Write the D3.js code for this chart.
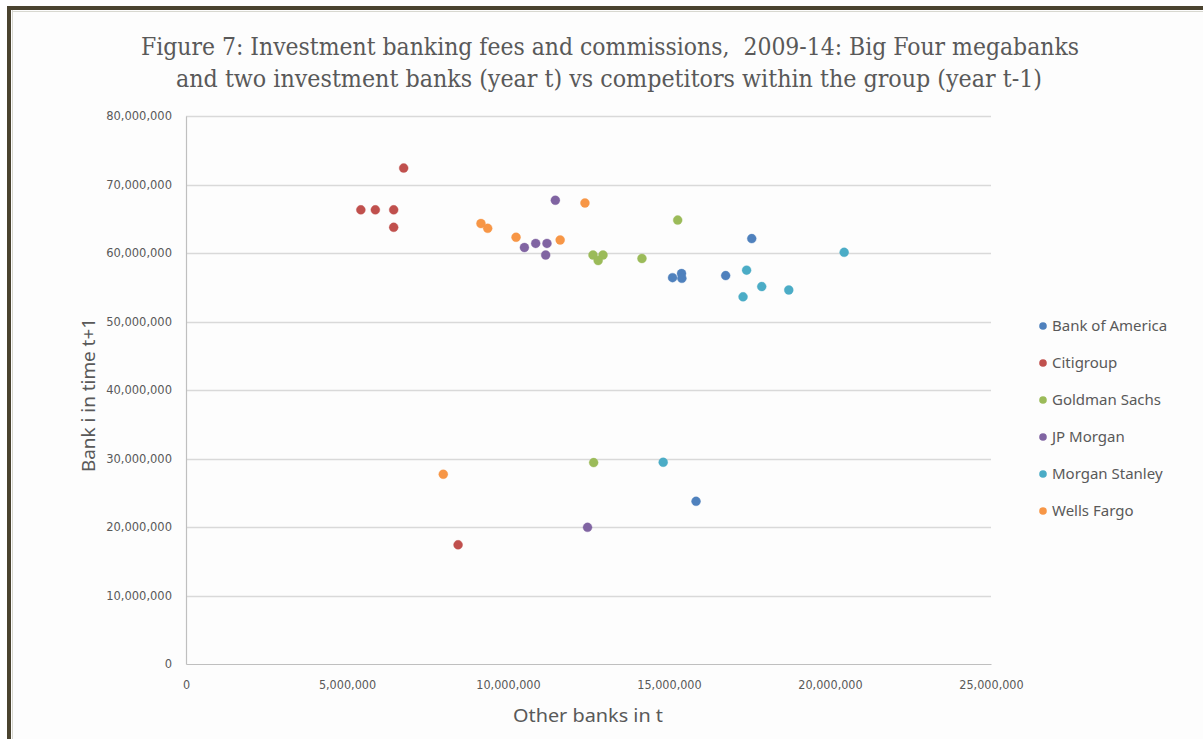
<!DOCTYPE html>
<html>
<head>
<meta charset="utf-8">
<script src="https://cdn.jsdelivr.net/npm/d3@7"></script>
<style>
  html, body { margin: 0; padding: 0; background: #ffffff; }
  svg { display: block; }
</style>
</head>
<body>
<svg id="chart" width="1203" height="739"></svg>
<script>
// ---- Data ----
const seriesNames = ["Bank of America", "Citigroup", "Goldman Sachs", "JP Morgan", "Morgan Stanley", "Wells Fargo"];
const seriesColors = ["#4F81BD", "#C0504D", "#9BBB59", "#8064A2", "#4BACC6", "#F79646"];

const bankOfAmericaX = [15110000, 15390000, 15400000, 16760000, 17570000, 15840000];
const bankOfAmericaY = [56400000, 57000000, 56300000, 56700000, 62100000, 23750000];

const citigroupX = [5430000, 5880000, 6450000, 6450000, 6760000, 8450000];
const citigroupY = [66300000, 66300000, 66300000, 63750000, 72400000, 17400000];

const goldmanSachsX = [12640000, 12950000, 12800000, 14160000, 15270000, 12660000];
const goldmanSachsY = [59700000, 59700000, 58900000, 59200000, 64800000, 29400000];

const jpMorganX = [10510000, 10860000, 11210000, 11170000, 11470000, 12470000];
const jpMorganY = [60800000, 61400000, 61400000, 59700000, 67700000, 19950000];

const morganStanleyX = [17410000, 17880000, 18720000, 17300000, 20440000, 14820000];
const morganStanleyY = [57500000, 55100000, 54600000, 53600000, 60100000, 29450000];

const wellsFargoX = [9160000, 9370000, 10250000, 11620000, 12390000, 7990000];
const wellsFargoY = [64300000, 63600000, 62300000, 61900000, 67300000, 27700000];

const xTicks = [0, 5000000, 10000000, 15000000, 20000000, 25000000];
const yTicks = [0, 10000000, 20000000, 30000000, 40000000, 50000000, 60000000, 70000000, 80000000];

const titleLines = [
  "Figure 7: Investment banking fees and commissions,  2009-14: Big Four megabanks",
  "and two investment banks (year t) vs competitors within the group (year t-1)"
];
const xTitle = "Other banks in t";
const yTitle = "Bank i in time t+1";

// ---- Build ----
const seriesX = [bankOfAmericaX, citigroupX, goldmanSachsX, jpMorganX, morganStanleyX, wellsFargoX];
const seriesY = [bankOfAmericaY, citigroupY, goldmanSachsY, jpMorganY, morganStanleyY, wellsFargoY];
const series = seriesNames.map((name, i) => ({
  name, color: seriesColors[i],
  points: seriesX[i].map((x, j) => ({ x, y: seriesY[i][j] }))
}));

const svg = d3.select("#chart");
const textColor = "#595959";

// Frame
svg.append("rect").attr("x", 0).attr("y", 0).attr("width", 1203).attr("height", 739).attr("fill", "#ffffff");
svg.append("rect").attr("x", 11).attr("y", 10).attr("width", 1192).attr("height", 729).attr("fill", "#fdfdfd");
svg.append("line").attr("x1", 9).attr("x2", 9).attr("y1", 6).attr("y2", 739)
  .attr("stroke", "#4a432f").attr("stroke-width", 4);
svg.append("line").attr("x1", 7).attr("x2", 1203).attr("y1", 8).attr("y2", 8)
  .attr("stroke", "#4a432f").attr("stroke-width", 4);
svg.append("line").attr("x1", 12.5).attr("x2", 12.5).attr("y1", 10).attr("y2", 739)
  .attr("stroke", "#d8d8d0").attr("stroke-width", 1);
svg.append("line").attr("x1", 12).attr("x2", 1203).attr("y1", 11.5).attr("y2", 11.5)
  .attr("stroke", "#d8d8d0").attr("stroke-width", 1);

// Scales
const x = d3.scaleLinear().domain([0, 25000000]).range([186, 991]);
const y = d3.scaleLinear().domain([0, 80000000]).range([664, 116]);
const fmt = d3.format(",");

// Gridlines
svg.append("g").selectAll("line").data(yTicks.filter(d => d > 0)).join("line")
  .attr("x1", x(0)).attr("x2", x(25000000))
  .attr("y1", d => Math.round(y(d)) + 0.5).attr("y2", d => Math.round(y(d)) + 0.5)
  .attr("stroke", "#d9d9d9").attr("stroke-width", 1.5);

// Axes
const yAxis = d3.axisLeft(y).tickValues(yTicks).tickFormat(fmt).tickSize(0).tickPadding(14);
const gy = svg.append("g").attr("transform", `translate(${x(0)},0)`).call(yAxis);
gy.select(".domain").attr("stroke", "#bfbfbf").attr("stroke-width", 1.2);
gy.selectAll("text").attr("fill", textColor).attr("font-family", "'DejaVu Sans', sans-serif")
  .attr("font-size", "11.5px");

const xAxis = d3.axisBottom(x).tickValues(xTicks).tickFormat(fmt).tickSize(0).tickPadding(16);
const gx = svg.append("g").attr("transform", `translate(0,${y(0)})`).call(xAxis);
gx.select(".domain").attr("stroke", "#bfbfbf").attr("stroke-width", 1.2);
gx.selectAll("text").attr("fill", textColor).attr("font-family", "'DejaVu Sans Condensed', 'Liberation Sans Narrow', sans-serif")
  .attr("font-size", "12.5px");

// Title
svg.append("g").selectAll("text").data(titleLines).join("text")
  .attr("x", (d, i) => i === 0 ? 141 : 176)
  .attr("y", (d, i) => i === 0 ? 55 : 87)
  .attr("textLength", (d, i) => i === 0 ? 938 : 866)
  .attr("lengthAdjust", "spacingAndGlyphs")
  .attr("fill", textColor)
  .attr("font-family", "'DejaVu Serif Condensed', 'DejaVu Serif', serif")
  .attr("font-size", "24px")
  .style("white-space", "pre")
  .attr("xml:space", "preserve")
  .text(d => d);

// Axis titles
svg.append("text").attr("x", 588).attr("y", 722).attr("text-anchor", "middle")
  .attr("fill", textColor).attr("font-family", "'Noto Sans', sans-serif").attr("font-size", "18px")
  .attr("textLength", 150).attr("lengthAdjust", "spacingAndGlyphs").text(xTitle);
svg.append("text").attr("transform", "translate(95,395) rotate(-90)").attr("text-anchor", "middle")
  .attr("fill", textColor).attr("font-family", "'Noto Sans', sans-serif").attr("font-size", "18px")
  .attr("textLength", 154).attr("lengthAdjust", "spacingAndGlyphs").text(yTitle);

// Points
const pts = svg.append("g");
series.forEach(s => {
  pts.append("g").selectAll("circle").data(s.points).join("circle")
    .attr("cx", d => x(d.x)).attr("cy", d => y(d.y)).attr("r", 4.5)
    .attr("fill", s.color).attr("stroke", s.color).attr("stroke-opacity", 0.35).attr("stroke-width", 1);
});

// Legend
const legend = svg.append("g").selectAll("g").data(series).join("g")
  .attr("transform", (d, i) => `translate(1043,${326 + i * 37})`);
legend.append("circle").attr("r", 3.8).attr("fill", d => d.color);
legend.append("text").attr("x", 9).attr("y", 0).attr("dy", "0.35em")
  .attr("fill", textColor).attr("font-family", "'Noto Sans', sans-serif").attr("font-size", "15px")
  .text(d => d.name);
</script>
</body>
</html>
